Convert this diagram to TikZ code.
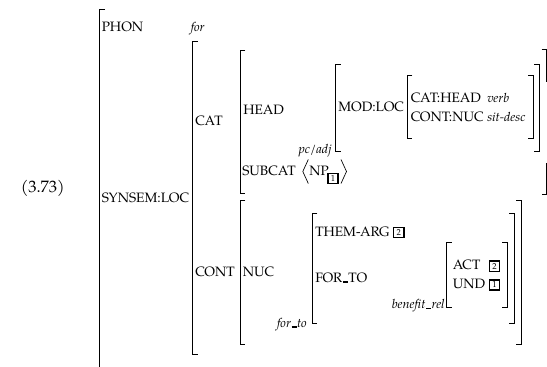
\documentclass[tikz,border=0pt]{standalone}
\usepackage{fontspec}
\setmainfont{TeX Gyre Pagella}
\newcommand\avmL[3]{\draw[br] ({#1+5},#2) -- (#1,#2) -- (#1,#3) -- ({#1+5},#3);}
\newcommand\avmR[3]{\draw[br] ({#1-5},#2) -- (#1,#2) -- (#1,#3) -- ({#1-5},#3);}
\newcommand\usc{\kern0.4pt\rule[-0.3pt]{3.8pt}{1.1pt}\kern0.4pt}
\begin{document}
\begin{tikzpicture}[x=0.75pt,y=-0.75pt,
  br/.style={line width=0.75pt},
  lbl/.style={anchor=base west,inner sep=0pt,font=\fontsize{10.2}{12}\selectfont},
  itl/.style={anchor=base west,inner sep=0pt,font=\fontsize{9.5}{11}\selectfont\itshape},
  itr/.style={anchor=base east,inner sep=0pt,font=\fontsize{9.5}{11}\selectfont\itshape},
  tagbox/.style={draw,line width=1.1pt,inner sep=0pt,minimum width=7.6pt,minimum height=7.6pt,font=\fontsize{6.5}{7}\selectfont}]
\useasboundingbox (0,0) rectangle (547,367);
% brackets
\draw[br] (105,10) -- (99.3,10) -- (99.3,367);
\avmL{192.7}{41.7}{355}
\avmL{240.3}{50.7}{193.5}
\draw[br] (541.7,50) -- (546.7,50) -- (546.7,81.7);
\draw[br] (546.7,163) -- (546.7,194.5) -- (541.7,194.5);
\avmL{335.7}{64.5}{151.7}
\avmR{539.3}{64.5}{151.7}
\avmL{407.3}{76}{139}
\avmR{533.3}{76}{139}
\avmL{240.3}{200.7}{344.5}
\avmR{521}{200.7}{345}
\avmL{312.3}{214}{324}
\avmR{514.3}{214}{324}
\avmL{446.7}{242.7}{307.7}
\avmR{507.3}{242.7}{307.7}
% texts
\node[lbl,font=\fontsize{12.4}{14}\selectfont] (num) at (20.5,193) {(3.73)};
\node[lbl] (phon) at (101.5,32) {PHON};
\node[itl] (for) at (190.5,32) {for};
\node[lbl] (synsem) at (101.5,203) {SYNSEM:LOC};
\node[lbl] (cat) at (195,126) {CAT};
\node[lbl] (head) at (243,115) {HEAD};
\node[lbl] (subcat) at (242,175.5) {SUBCAT};
\node[itr] (pcadj) at (332,154) {pc/adj};
\node[lbl] (modloc) at (338,112) {MOD:LOC};
\node[lbl] (cathead) at (410.5,102.5) {CAT:HEAD};
\node[itl] (verb) at (487,102.5) {verb};
\node[lbl] (contnuc) at (410.5,121.5) {CONT:NUC};
\node[itl] (sitdesc) at (487,121.5) {sit-desc};
\node[lbl] (np) at (309,176) {NP};
\node[tagbox] (np1) at (333,178.7) {1};
\draw[line width=0.5pt] (308.3,159.5) -- (302.8,171.5) -- (308.3,183.5);
\draw[line width=0.5pt] (341,159.5) -- (346.5,171.5) -- (341,183.5);
\node[lbl] (cont) at (195,276.5) {CONT};
\node[lbl] (nuc) at (242.5,276.5) {NUC};
\node[lbl] (themarg) at (315,236.5) {THEM-ARG};
\node[tagbox] (t2) at (398.7,232.5) {2};
\node[lbl] (forto) at (315,282.5) {FOR\usc TO};
\node[itr] (fortoi) at (307,327.5) {for\usc to};
\node[itr] (benrel) at (445,309) {benefit\usc rel};
\node[lbl] (act) at (452.5,270) {ACT};
\node[tagbox] (a2) at (494.5,266.3) {2};
\node[lbl] (und) at (452.5,289) {UND};
\node[tagbox] (u1) at (494.5,285) {1};
\end{tikzpicture}
\end{document}
